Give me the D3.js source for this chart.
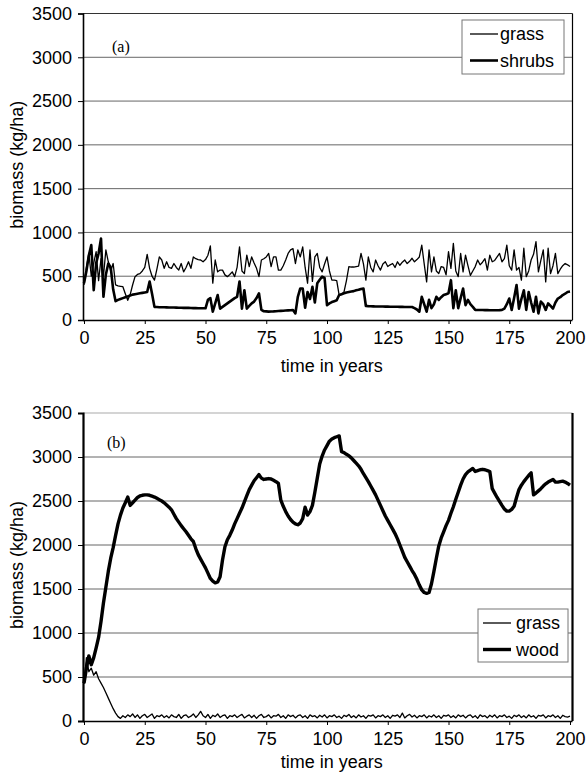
<!DOCTYPE html>
<html><head><meta charset="utf-8">
<script src="https://cdn.jsdelivr.net/npm/d3@7"></script>
<style>
html,body{margin:0;padding:0;background:#fff;}
svg{display:block;}
text{font-family:"Liberation Sans",Arial,Helvetica,sans-serif;fill:#000;}
</style></head>
<body>
<svg id="chart" width="588" height="773"></svg>
<script>
// ---------------- DATA ----------------
const xTicks = [0, 25, 50, 75, 100, 125, 150, 175, 200];
const yTicks = [0, 500, 1000, 1500, 2000, 2500, 3000, 3500];
const xTitle = "time in years";
const yTitle = "biomass (kg/ha)";

// panel (a): yearly values, year 0..200
const grassA = [
 400,600,760,500,650,780,450,700,500,800,
 665,560,645,400,390,385,380,300,225,290,
 400,495,520,530,560,600,750,590,500,455,
 580,720,685,590,665,600,590,645,600,570,
 645,550,600,665,590,720,700,690,685,665,
 690,740,845,420,685,550,570,570,515,495,
 520,550,495,600,835,560,530,740,610,720,
 650,590,495,685,700,720,760,610,720,720,
 570,570,620,685,760,800,815,645,800,720,
 835,600,420,800,440,720,760,600,550,640,
 720,560,455,455,450,285,295,320,450,610,
 605,605,610,615,760,640,455,720,600,550,
 685,620,570,640,665,610,630,645,600,665,
 625,660,685,645,670,705,665,690,720,855,
 640,435,800,550,720,560,530,610,600,515,
 780,590,875,560,495,760,550,740,620,510,
 560,610,685,630,660,700,570,740,665,680,
 720,760,665,700,855,620,570,800,570,600,
 455,820,495,560,685,750,895,550,680,800,
 435,820,530,620,760,530,580,620,645,630,
 610
];
const shrubsA = [
 420,560,740,855,340,650,760,930,265,520,
 645,600,350,215,230,240,250,260,270,280,
 290,295,300,305,310,315,320,440,300,150,
 148,146,145,145,144,143,142,142,141,140,
 140,139,138,138,137,136,136,135,135,134,
 134,230,250,95,190,285,130,150,170,190,
 210,230,250,265,440,130,340,130,160,190,
 210,250,305,115,100,98,96,97,98,100,
 102,104,106,108,110,112,114,75,265,360,
 360,140,320,240,380,200,420,460,495,480,
 170,190,205,215,225,285,295,305,315,320,
 325,330,340,345,355,360,160,158,157,156,
 155,155,154,154,153,153,152,152,151,151,
 150,150,149,149,148,148,135,120,95,265,
 180,95,230,135,180,265,230,260,285,295,
 305,455,135,340,135,250,360,170,230,180,
 150,115,115,114,114,113,113,112,112,112,
 112,113,115,130,180,245,115,250,400,130,
 240,340,115,320,200,95,265,75,210,180,
 115,190,160,130,200,245,260,285,300,320,
 325
];

// panel (b)
const grassB = [
 420,720,560,600,520,560,480,430,380,320,
 260,200,140,90,50,30,60,40,70,50,
 80,40,70,30,60,75,40,60,80,30,
 60,50,70,40,60,35,70,50,40,75,
 30,60,70,40,55,80,40,70,110,60,
 40,75,30,65,50,80,40,60,70,30,
 60,50,70,40,60,75,35,55,70,40,
 65,30,60,75,40,50,70,35,60,55,
 75,40,60,30,70,50,65,35,60,70,
 40,60,30,70,50,60,35,65,45,70,
 35,60,50,70,40,55,30,65,50,75,
 40,60,35,70,45,60,30,65,55,70,
 35,60,50,70,40,60,30,65,55,70,
 40,90,35,60,75,45,65,35,60,50,
 70,35,60,45,70,40,60,30,65,55,
 70,40,60,35,70,50,65,35,60,70,
 40,60,30,70,50,60,35,65,45,70,
 35,60,50,70,40,55,30,65,50,70,
 40,60,35,70,45,60,30,65,55,70,
 35,60,50,70,40,60,30,65,50,45,
 55
];
const woodB = [
 430,600,740,640,720,830,950,1130,1340,1520,
 1700,1850,1970,2110,2240,2340,2420,2480,2545,2450,
 2480,2510,2540,2557,2565,2570,2570,2565,2555,2545,
 2530,2515,2500,2480,2455,2430,2400,2350,2300,2260,
 2220,2185,2150,2110,2070,2040,1960,1890,1840,1790,
 1740,1680,1620,1590,1570,1580,1640,1830,1980,2060,
 2110,2170,2240,2300,2360,2420,2490,2560,2630,2680,
 2730,2765,2800,2760,2745,2750,2755,2750,2735,2720,
 2700,2510,2440,2380,2330,2290,2260,2240,2230,2250,
 2300,2430,2340,2380,2450,2600,2760,2920,3010,3080,
 3130,3180,3205,3220,3230,3240,3060,3050,3030,3015,
 2990,2960,2930,2900,2860,2810,2765,2720,2670,2620,
 2570,2510,2450,2390,2330,2280,2230,2180,2130,2070,
 2000,1930,1860,1810,1760,1710,1665,1610,1545,1490,
 1460,1450,1460,1560,1700,1850,1990,2080,2150,2220,
 2280,2360,2435,2520,2600,2680,2750,2800,2830,2850,
 2870,2835,2845,2855,2860,2855,2845,2835,2640,2590,
 2540,2495,2450,2410,2385,2385,2405,2440,2540,2630,
 2680,2720,2755,2790,2820,2570,2590,2615,2640,2670,
 2695,2715,2730,2745,2715,2715,2720,2725,2715,2700,
 2680
];

const panels = [
  {label:"(a)", top:13.5, bottom:320, labelX:112, labelY:47,
   series:[{name:"grass", values:grassA, w:1.3},{name:"shrubs", values:shrubsA, w:2.6}],
   legend:{x:462, y:20, w:102, h:54, lineX:470, textX:500},
   topBorder:"#333", rightW:1.2, leftW:1.6, titleOff:52},
  {label:"(b)", top:413, bottom:721, labelX:107, labelY:443,
   series:[{name:"grass", values:grassB, w:1.3},{name:"wood", values:woodB, w:3.4}],
   legend:{x:478, y:609, w:90, h:53, lineX:483, textX:516},
   topBorder:"#aaa", rightW:2.2, leftW:2.2, titleOff:47}
];

// ---------------- DRAW ----------------
const svg = d3.select("#chart");
const x = d3.scaleLinear().domain([0,200]).range([84,570]);
const plotL = 83, plotR = 572.5;

panels.forEach(p => {
  const y = d3.scaleLinear().domain([0,3500]).range([p.bottom, p.top]);
  const g = svg.append("g");

  // gridlines
  g.append("g").selectAll("line").data(yTicks.filter(d => d>0 && d<3500)).join("line")
    .attr("x1", plotL).attr("x2", plotR)
    .attr("y1", d => y(d)).attr("y2", d => y(d))
    .attr("stroke", "#666").attr("stroke-width", 1);

  // top border and right border
  g.append("line").attr("x1", plotL).attr("x2", plotR).attr("y1", p.top).attr("y2", p.top)
    .attr("stroke", p.topBorder).attr("stroke-width", 1.2);
  g.append("line").attr("x1", plotR).attr("x2", plotR).attr("y1", p.top).attr("y2", p.bottom)
    .attr("stroke", "#000").attr("stroke-width", p.rightW);

  // y axis
  const yAxis = d3.axisLeft(y).tickValues(yTicks).tickSize(5).tickPadding(6).tickFormat(d3.format("d"));
  const ya = g.append("g").attr("transform", `translate(${plotL},0)`).call(yAxis);
  ya.select(".domain").attr("stroke", "#000").attr("stroke-width", p.leftW);
  ya.selectAll(".tick line").attr("stroke", "#000");
  ya.selectAll(".tick text").style("font-size", "18px").attr("font-family", "Liberation Sans, Arial, sans-serif");

  // x axis
  const xAxis = d3.axisBottom(x).tickValues(xTicks).tickSize(4).tickPadding(7).tickFormat(d3.format("d"));
  const xa = g.append("g").attr("transform", `translate(0,${p.bottom})`).call(xAxis);
  xa.select(".domain").attr("d", `M${plotL},0.5H${plotR}`).attr("stroke", "#000").attr("stroke-width", 1.3);
  xa.selectAll(".tick line").attr("stroke", "#000");
  xa.selectAll(".tick text").style("font-size", "18px").attr("font-family", "Liberation Sans, Arial, sans-serif");

  // axis titles
  g.append("text").attr("x", (plotL+plotR)/2 + 4).attr("y", p.bottom + p.titleOff)
    .attr("text-anchor", "middle").style("font-size", "18px").text(xTitle);
  g.append("text").attr("transform", `translate(23,${(p.top+p.bottom)/2 - 2}) rotate(-90)`)
    .attr("text-anchor", "middle").style("font-size", "18px").text(yTitle);

  // panel label
  g.append("text").attr("x", p.labelX).attr("y", p.labelY + 5)
    .style("font-family", "Liberation Serif, Times New Roman, serif").style("font-size", "16px").text(p.label);

  // lines
  const line = d3.line().x((d,i) => x(i)).y(d => y(d));
  p.series.forEach(s => {
    g.append("path").datum(s.values).attr("d", line)
      .attr("fill", "none").attr("stroke", "#000").attr("stroke-width", s.w)
      .attr("stroke-linejoin", "round");
  });

  // legend
  const L = p.legend;
  const lg = g.append("g");
  lg.append("rect").attr("x", L.x).attr("y", L.y).attr("width", L.w).attr("height", L.h)
    .attr("fill", "#fff").attr("stroke", "#777").attr("stroke-width", 1);
  p.series.forEach((s, i) => {
    const cy = L.y + 14 + i*26.5;
    lg.append("line").attr("x1", L.lineX).attr("x2", L.lineX + 28).attr("y1", cy).attr("y2", cy)
      .attr("stroke", "#000").attr("stroke-width", s.w);
    lg.append("text").attr("x", L.textX).attr("y", cy + 6).style("font-size", "18px").text(s.name);
  });
});
</script>
</body></html>
